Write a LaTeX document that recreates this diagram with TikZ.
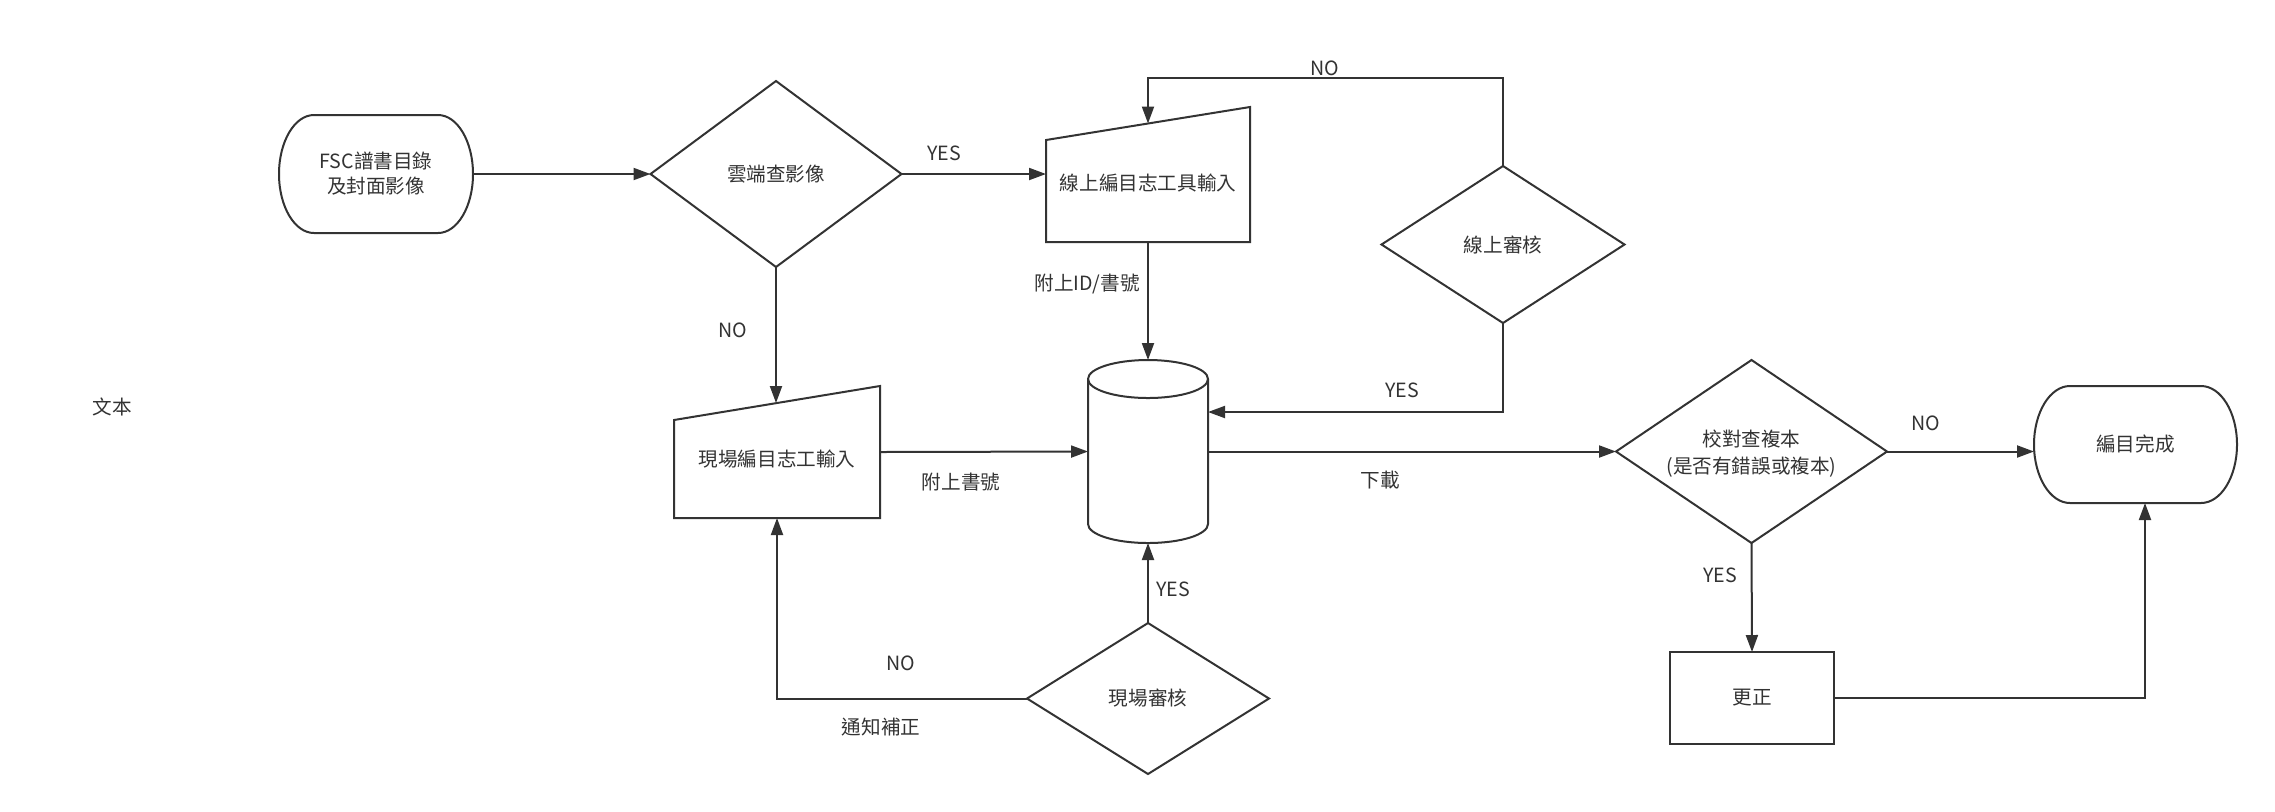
\documentclass[tikz,border=0pt]{standalone}
\usepackage{fontspec}
\setmainfont{Noto Sans CJK TC}
\usetikzlibrary{arrows.meta,shapes.geometric,calc}
\definecolor{ln}{HTML}{333333}
\definecolor{tx}{HTML}{333333}
\begin{document}
\begin{tikzpicture}[x=0.5pt,y=-0.5pt,
  every node/.style={font=\fontsize{9.8pt}{12.5pt}\selectfont, text=tx},
  conn/.style={draw=ln, line width=1pt, -{Triangle[length=8.5pt,width=6pt]}},
  outline/.style={draw=ln, line width=1pt},
  dia/.style={shape=diamond, draw=ln, line width=1pt, inner sep=0pt, outer sep=0pt, align=center},
  bx/.style={rectangle, inner sep=0pt, outer sep=0pt},
  lbl/.style={inner sep=0pt}
]
\useasboundingbox (0,0) rectangle (2275,811);

% start terminal
\node[bx, minimum width=97pt, minimum height=59pt, align=center] (start) at (376,174) {FSC譜書目錄\\及封面影像};
\draw[outline] ([xshift=17.5pt]start.north west) -- ([xshift=-17.5pt]start.north east)
  arc[start angle=90,end angle=-90,x radius=17.5pt,y radius=29.5pt]
  -- ([xshift=17.5pt]start.south west)
  arc[start angle=270,end angle=90,x radius=17.5pt,y radius=29.5pt] -- cycle;

% decision 1
\node[dia, minimum width=125.5pt, minimum height=93pt] (d1) at (776,174) {雲端查影像};

% online manual input
\node[bx, minimum width=102pt, minimum height=67.5pt] (b2) at (1148,174.5) {};
\draw[outline] (b2.south west) -- (b2.south east) -- (b2.north east) -- ([yshift=-16.5pt]b2.north west) -- cycle;
\node[lbl] (b2t) at ($(b2.center)+(0,8.5)$) {線上編目志工具輸入};
\coordinate (b2top) at ($(b2.north)+(0,16.5)$);

% onsite manual input
\node[bx, minimum width=103pt, minimum height=66pt] (bB) at (777,452) {};
\draw[outline] (bB.south west) -- (bB.south east) -- (bB.north east) -- ([yshift=-17pt]bB.north west) -- cycle;
\node[lbl] (bBt) at ($(bB.center)+(0,7)$) {現場編目志工輸入};
\coordinate (bBtop) at ($(bB.north)+(0,17)$);

% database cylinder
\node[bx, minimum width=60pt, minimum height=91.5pt] (cyl) at (1148,451.5) {};
\draw[outline] ([yshift=-9.5pt]cyl.north west) -- ([yshift=9.5pt]cyl.south west)
  arc[start angle=180,end angle=360,x radius=30pt,y radius=9.5pt]
  -- ([yshift=-9.5pt]cyl.north east)
  arc[start angle=0,end angle=180,x radius=30pt,y radius=9.5pt] -- cycle;
\draw[outline] ([yshift=-9.5pt]cyl.north west) arc[start angle=180,end angle=360,x radius=30pt,y radius=9.5pt];

% decisions
\node[dia, minimum width=121.5pt, minimum height=78.5pt] (d2) at (1503,244.5) {線上審核};
\node[dia, minimum width=121pt, minimum height=75.5pt] (d3) at (1148,698.5) {現場審核};
\node[dia, minimum width=135.5pt, minimum height=91.5pt] (d4) at (1751.5,451.5) {};
\node[lbl, align=center, font=\fontsize{9.8pt}{13.5pt}\selectfont] (d4t) at ($(d4.center)+(0,2)$) {校對查複本\\(是否有錯誤或複本)};

% correction box
\node[draw=ln, line width=1pt, minimum width=82pt, minimum height=46pt, inner sep=0pt, outer sep=0pt] (fix) at (1752,698) {更正};

% end terminal
\node[bx, minimum width=101.5pt, minimum height=58.5pt] (endt) at (2135.5,444.5) {編目完成};
\draw[outline] ([xshift=18pt]endt.north west) -- ([xshift=-18pt]endt.north east)
  arc[start angle=90,end angle=-90,x radius=18pt,y radius=29.25pt]
  -- ([xshift=18pt]endt.south west)
  arc[start angle=270,end angle=90,x radius=18pt,y radius=29.25pt] -- cycle;

% free text
\node[lbl] (free) at (112,407) {文本};

% connectors
\draw[conn] (start.east) -- (d1.west);
\draw[conn] (d1.east) -- (d1.east -| b2.west);
\draw[conn] (d1.south) -- (d1.south |- bBtop);
\draw[conn] (b2.south) -- (cyl.north);
\draw[conn] (d2.north) -- ++(0,-88) -| (b2top);
\draw[conn] (d2.south) |- ($(cyl.east)+(0,-39.5)$);
\draw[conn] (bB.east) -- (cyl.west);
\draw[conn] (d3.north) -- (cyl.south);
\draw[conn] (d3.west) -| (bB.south);
\draw[conn] (cyl.east) -- (d4.west);
\draw[conn] (d4.east) -- (d4.east -| endt.west);
\draw[conn] (d4.south) -- (fix.north);
\draw[conn] (fix.east) -| ($(endt.south)+(9.5,0)$);

% connector labels
\node[lbl] (l1) at (944,153) {YES};
\node[lbl] (l2) at (733,330) {NO};
\node[lbl, anchor=east] (l3) at (1140,284) {附上ID/書號};
\node[lbl] (l4) at (1325,68) {NO};
\node[lbl] (l5) at (1402,390) {YES};
\node[lbl] (l6) at (961,482) {附上書號};
\node[lbl] (l7) at (1173,589) {YES};
\node[lbl] (l8) at (901,663) {NO};
\node[lbl] (l9) at (881,727) {通知補正};
\node[lbl] (l10) at (1380,480) {下載};
\node[lbl] (l11) at (1926,423) {NO};
\node[lbl] (l12) at (1720,575) {YES};
\end{tikzpicture}
\end{document}
